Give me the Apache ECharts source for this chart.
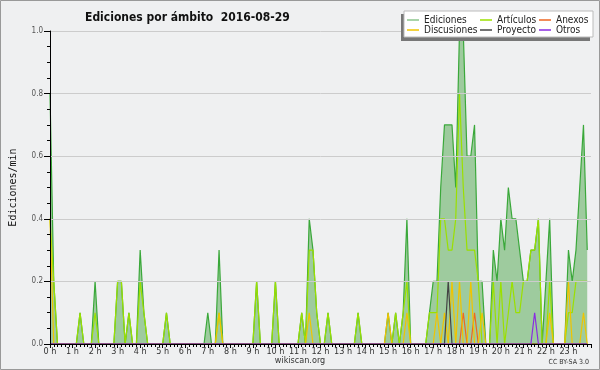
<!DOCTYPE html>
<html><head><meta charset="utf-8">
<script src="https://cdn.jsdelivr.net/npm/echarts@6/dist/echarts.min.js"></script>
<style>html,body{margin:0;padding:0;background:#eff0f1}#c{width:600px;height:370px}</style>
</head><body><div id="c"></div>
<script>
// Values per 10-minute slot (edits per minute), 144 slots from 0 h to 23:50
const ediciones = [
 0.8,0.2,0,0,0,0,0,0,0.1,0,0,0,
 0.2,0,0,0,0,0,0.2,0.2,0,0.1,0,0,
 0.3,0.1,0,0,0,0,0,0.1,0,0,0,0,
 0,0,0,0,0,0,0.1,0,0,0.3,0,0,
 0,0,0,0,0,0,0,0.2,0,0,0,0,
 0.2,0,0,0,0,0,0,0.1,0,0.4,0.3,0.1,
 0,0,0.1,0,0,0,0,0,0,0,0.1,0,
 0,0,0,0,0,0,0.1,0,0.1,0,0.1,0.4,
 0,0,0,0,0,0.1,0.2,0.2,0.5,0.7,0.7,0.7,
 0.5,1.0,1.0,0.6,0.6,0.7,0.2,0.2,0,0,0.3,0.2,
 0.4,0.3,0.5,0.4,0.4,0.3,0.2,0.2,0.3,0.3,0.4,0,
 0.2,0.4,0,0,0,0,0.3,0.2,0.3,0.5,0.7,0.3
];
const articulos = [
 0.4,0.2,0,0,0,0,0,0,0.1,0,0,0,
 0.1,0,0,0,0,0,0.2,0.2,0,0.1,0,0,
 0.2,0.1,0,0,0,0,0,0.1,0,0,0,0,
 0,0,0,0,0,0,0,0,0,0.1,0,0,
 0,0,0,0,0,0,0,0.2,0,0,0,0,
 0.2,0,0,0,0,0,0,0.1,0,0.3,0.3,0.1,
 0,0,0.1,0,0,0,0,0,0,0,0.1,0,
 0,0,0,0,0,0,0,0,0.1,0,0.1,0.2,
 0,0,0,0,0,0.1,0.1,0.1,0.4,0.4,0.3,0.3,
 0.4,0.8,0.5,0.3,0.3,0.3,0.2,0,0,0,0.2,0,
 0.2,0,0.1,0.2,0.1,0.1,0.2,0.2,0.3,0.3,0.4,0,
 0,0.2,0,0,0,0,0.1,0.1,0.2,0.2,0.2,0.2
];
const anexos = [
 0,0,0,0,0,0,0,0,0,0,0,0,
 0,0,0,0,0,0,0,0,0,0,0,0,
 0,0,0,0,0,0,0,0,0,0,0,0,
 0,0,0,0,0,0,0,0,0,0,0,0,
 0,0,0,0,0,0,0,0,0,0,0,0,
 0,0,0,0,0,0,0,0,0,0,0,0,
 0,0,0,0,0,0,0,0,0,0,0,0,
 0,0,0,0,0,0,0,0,0,0,0,0,
 0,0,0,0,0,0,0,0,0,0,0,0,
 0,0,0.1,0,0,0.1,0,0,0,0,0,0,
 0,0,0,0,0,0,0,0,0,0,0,0,
 0,0,0,0,0,0,0,0,0,0,0,0
];
const discusiones = [
 0.4,0,0,0,0,0,0,0,0,0,0,0,
 0,0,0,0,0,0,0,0,0,0,0,0,
 0,0,0,0,0,0,0,0,0,0,0,0,
 0,0,0,0,0,0,0,0,0,0.1,0,0,
 0,0,0,0,0,0,0,0,0,0,0,0,
 0,0,0,0,0,0,0,0,0,0.1,0,0,
 0,0,0,0,0,0,0,0,0,0,0,0,
 0,0,0,0,0,0,0.1,0,0,0,0,0.1,
 0,0,0,0,0,0,0,0.1,0,0.1,0,0.2,
 0,0.2,0,0,0.2,0,0,0.1,0,0,0,0,
 0,0,0,0,0,0,0,0,0,0,0,0,
 0,0.1,0,0,0,0,0.2,0,0,0,0.1,0
];
const proyecto = [
 0,0,0,0,0,0,0,0,0,0,0,0,
 0,0,0,0,0,0,0,0,0,0,0,0,
 0,0,0,0,0,0,0,0,0,0,0,0,
 0,0,0,0,0,0,0,0,0,0,0,0,
 0,0,0,0,0,0,0,0,0,0,0,0,
 0,0,0,0,0,0,0,0,0,0,0,0,
 0,0,0,0,0,0,0,0,0,0,0,0,
 0,0,0,0,0,0,0,0,0,0,0,0,
 0,0,0,0,0,0,0,0,0,0,0.2,0,
 0,0,0,0,0,0,0,0,0,0,0,0,
 0,0,0,0,0,0,0,0,0,0,0,0,
 0,0,0,0,0,0,0,0,0,0,0,0
];
const otros = [
 0,0,0,0,0,0,0,0,0,0,0,0,
 0,0,0,0,0,0,0,0,0,0,0,0,
 0,0,0,0,0,0,0,0,0,0,0,0,
 0,0,0,0,0,0,0,0,0,0,0,0,
 0,0,0,0,0,0,0,0,0,0,0,0,
 0,0,0,0,0,0,0,0,0,0,0,0,
 0,0,0,0,0,0,0,0,0,0,0,0,
 0,0,0,0,0,0,0,0,0,0,0,0,
 0,0,0,0,0,0,0,0,0,0,0,0,
 0,0,0,0,0,0,0,0,0,0,0,0,
 0,0,0,0,0,0,0,0,0,0.1,0,0,
 0,0,0,0,0,0,0,0,0,0,0,0
];
const titleText = 'Ediciones por ámbito  2016-08-29';
const yName = 'Ediciones/min';

const FONT = '"DejaVu Sans Condensed","DejaVu Sans",sans-serif';
const slotHours = ediciones.map((_, i) => i / 6);
const pairs = arr => arr.map((v, i) => [slotHours[i], v]);
const lineSeries = (name, arr, color, extra) => Object.assign({
  name, type: 'line', data: pairs(arr), symbol: 'none', showSymbol: false,
  lineStyle: { color, width: 1.2 }, itemStyle: { color }, z: 2
}, extra || {});

const chart = echarts.init(document.getElementById('c'), null, { renderer: 'canvas' });
const legendBase = {
  orient: 'vertical', top: 15, itemGap: 0, itemWidth: 12, itemHeight: 1.5, icon: 'rect',
  padding: 0, selectedMode: false, zlevel: 1, z: 7,
  textStyle: { fontFamily: FONT, fontSize: 10, color: '#222', lineHeight: 10 }
};
chart.setOption({
  backgroundColor: '#eff0f1',
  animation: false,
  title: { text: titleText, left: 80, top: 7,
    textStyle: { fontFamily: FONT, fontSize: 12, fontWeight: 'bold', color: '#111' } },
  grid: { left: 46, right: 9, top: 31, bottom: 26 },
  xAxis: {
    type: 'value', min: 0, max: 24, interval: 1, z: 10,
    axisLine: { lineStyle: { color: '#000', width: 1 } },
    axisTick: { length: 4, lineStyle: { color: '#000' } },
    minorTick: { show: true, splitNumber: 6, length: 3, lineStyle: { color: '#000' } },
    axisLabel: { formatter: v => (v < 24 ? v + ' h' : ''), fontFamily: FONT, fontSize: 9, color: '#333', margin: 3 },
    splitLine: { show: false }
  },
  yAxis: {
    type: 'value', min: 0, max: 1, interval: 0.2, z: 10,
    name: yName, nameLocation: 'middle', nameGap: 32,
    nameTextStyle: { fontFamily: '"DejaVu Sans Mono",monospace', fontSize: 10, color: '#111' },
    axisLine: { show: true, lineStyle: { color: '#000' } },
    axisTick: { show: true, length: 6, lineStyle: { color: '#000' } },
    minorTick: { show: true, splitNumber: 4, length: 3, lineStyle: { color: '#000' } },
    axisLabel: { formatter: v => v.toFixed(1), fontFamily: FONT, fontSize: 8, color: '#555', margin: 7 },
    splitLine: { lineStyle: { color: '#cccccc' } }
  },
  legend: [
    Object.assign({}, legendBase, { left: 407, data: [{ name: 'Ediciones', itemStyle: { color: '#8cc68c' } }, 'Discusiones'] }),
    Object.assign({}, legendBase, { left: 480, data: ['Artículos', 'Proyecto'] }),
    Object.assign({}, legendBase, { left: 539, data: ['Anexos', 'Otros'] })
  ],
  graphic: [
    { type: 'rect', zlevel: 1, z: 5, shape: { x: 401, y: 14, width: 189, height: 27 }, style: { fill: '#777' } },
    { type: 'rect', zlevel: 1, z: 6, shape: { x: 404, y: 11, width: 189, height: 26 }, style: { fill: '#fff', stroke: '#bbb', lineWidth: 1 } },
    { type: 'text', z: 6, x: 300, y: 361, style: { text: 'wikiscan.org', font: '9px ' + FONT, fill: '#333', align: 'center', verticalAlign: 'middle' } },
    { type: 'text', z: 6, x: 589, y: 362, style: { text: 'CC BY-SA 3.0', font: '7px ' + FONT, fill: '#333', align: 'right', verticalAlign: 'middle' } },
    { type: 'rect', zlevel: 1, z: 20, shape: { x: 0.5, y: 0.5, width: 599, height: 369 }, style: { fill: 'none', stroke: '#999', lineWidth: 1 } }
  ],
  series: [
    lineSeries('Ediciones', ediciones, '#3aa83a', { areaStyle: { color: '#9ecb9e', opacity: 1 } }),
    lineSeries('Artículos', articulos, '#9be000'),
    lineSeries('Anexos', anexos, '#ee6622'),
    lineSeries('Discusiones', discusiones, '#f0c400'),
    lineSeries('Proyecto', proyecto, '#444444'),
    lineSeries('Otros', otros, '#8a2be2')
  ]
});
</script></body></html>
